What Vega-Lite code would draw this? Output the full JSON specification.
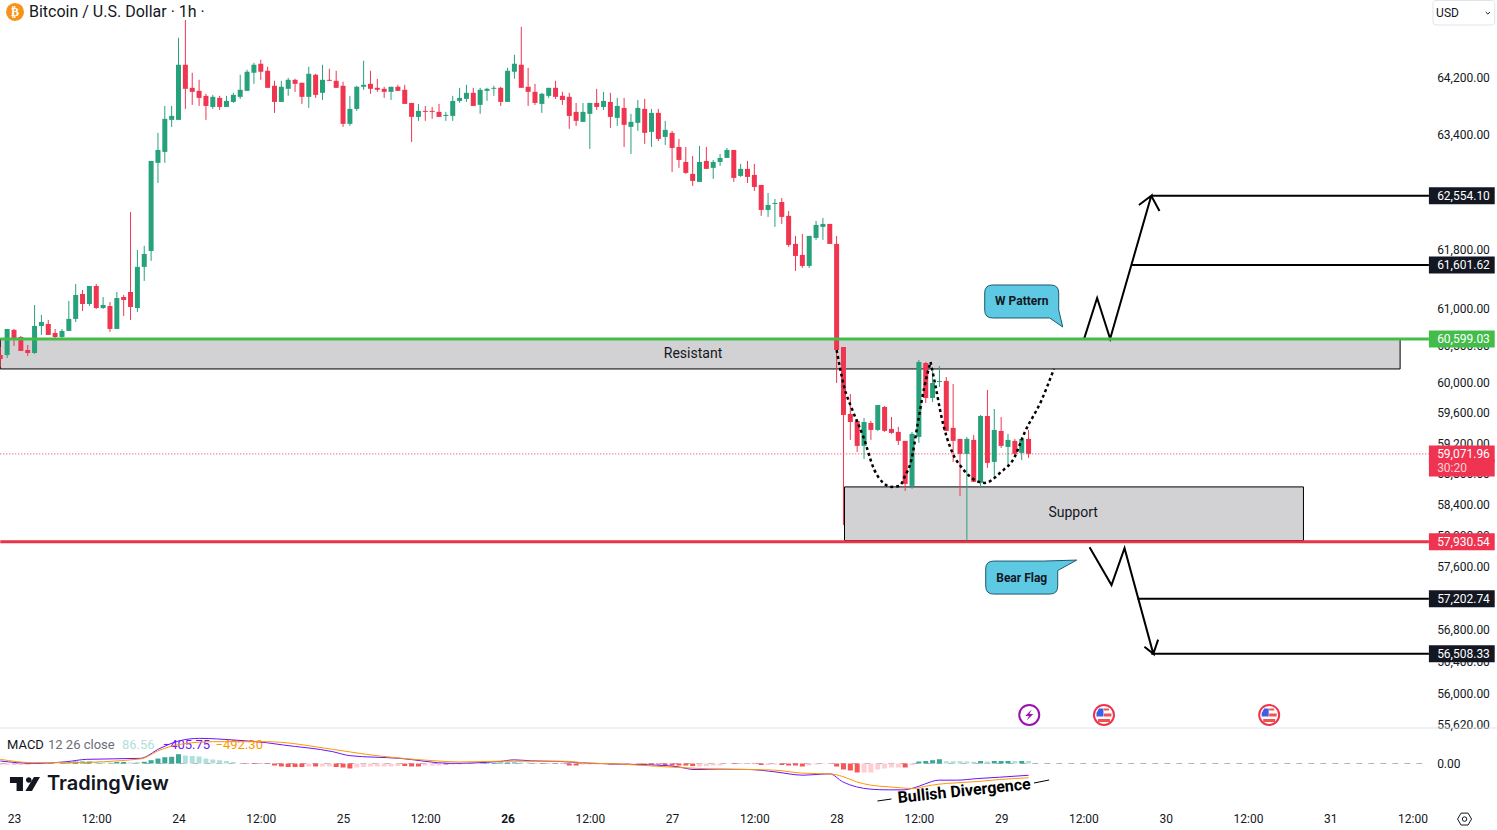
{"$schema":"https://vega.github.io/schema/vega-lite/v6.json","width":1430,"height":808,"padding":{"left":0,"top":0,"right":67,"bottom":22},"autosize":{"type":"none"},"background":"white","config":{"view":{"stroke":null},"font":"Roboto","text":{"font":"Roboto"}},
"datasets":{
"candles":[
[-2,60383,60330,60490,60223],[-1,60383,60733,60733,60343],[0,60720,60585,60733,60504],[1,60625,60437,60639,60437],[2,60450,60410,60517,60370],[3,60410,60773,61057,60397],[4,60773,60827,60922,60652],[5,60800,60652,60854,60652],[6,60679,60625,60733,60598],[7,60625,60706,60733,60598],[8,60706,60868,61111,60706],[9,60868,61192,61343,60827],[10,61206,61070,61261,60976],[11,61070,61315,61315,61043],[12,61315,61016,61343,61003],[13,61016,61057,61165,61003],[14,61043,60733,61097,60693],[15,60733,61151,61233,60733],[16,61165,61124,61192,60908],[17,61233,61030,62331,60854],[18,61016,61575,61807,60962],[19,61575,61752,61862,61384],[20,61793,63040,63040,61657],[21,63013,63194,63434,62733],[22,63166,63631,63814,63013],[23,63617,63673,63814,63518],[24,63617,64400,64786,63617],[25,64400,64057,65043,63772],[26,64071,64014,64286,63829],[27,64028,63928,64185,63814],[28,63957,63814,63986,63617],[29,63800,63943,63971,63772],[30,63928,63800,63957,63758],[31,63800,63885,63957,63800],[32,63871,63971,64000,63857],[33,63943,64043,64257,63914],[34,64028,64300,64329,64028],[35,64286,64400,64428,64128],[36,64414,64300,64471,64185],[37,64314,64071,64371,64071],[38,64100,63871,64171,63716],[39,63871,64086,64171,63871],[40,64057,64185,64214,63957],[41,64185,64128,64200,64014],[42,64143,63943,64143,63843],[43,63943,64271,64371,63786],[44,64257,63971,64271,63928],[45,64000,64185,64400,63899],[46,64185,64171,64343,64171],[47,64171,64071,64314,64071],[48,64100,63561,64157,63518],[49,63561,63772,63957,63532],[50,63772,64086,64100,63744],[51,64086,64114,64457,64043],[52,64128,64057,64314,63986],[53,64071,64043,64200,64014],[54,64057,64014,64086,63928],[55,64014,64086,64086,63899],[56,64086,64028,64114,64028],[57,64043,63843,64114,63843],[58,63857,63659,63857,63307],[59,63659,63744,63843,63603],[60,63744,63730,63814,63603],[61,63744,63730,63800,63631],[62,63730,63659,63843,63659],[63,63673,63688,63730,63603],[64,63673,63885,63957,63603],[65,63885,63928,64071,63857],[66,63914,64000,64114,63871],[67,64000,63814,64071,63814],[68,63829,64043,64071,63702],[69,64028,64057,64071,63885],[70,64057,64071,64100,63957],[71,64071,63871,64086,63814],[72,63871,64314,64357,63871],[73,64300,64414,64543,64200],[74,64400,64071,64943,64071],[75,64086,64014,64357,63814],[76,64014,63857,64128,63829],[77,63843,63986,64000,63716],[78,63957,64071,64071,63928],[79,64071,63943,64171,63914],[80,63957,63899,64014,63829],[81,63943,63673,64000,63490],[82,63730,63603,63857,63532],[83,63589,63730,63857,63589],[84,63702,63857,63857,63208],[85,63857,63800,64057,63758],[86,63800,63885,64014,63758],[87,63871,63659,64000,63504],[88,63645,63814,63928,63532],[89,63786,63547,63928,63236],[90,63518,63589,63702,63138],[91,63575,63786,63899,63462],[92,63772,63434,63914,63279],[93,63448,63716,63772,63236],[94,63716,63349,63772,63321],[95,63377,63476,63603,63265],[96,63434,63222,63462,62887],[97,63236,63054,63349,62943],[98,63026,62873,63236,62859],[99,62859,62761,63110,62691],[100,62747,63026,63250,62747],[101,63040,62929,63236,62929],[102,62943,63026,63054,62789],[103,63026,63082,63138,62971],[104,63082,63194,63222,63082],[105,63194,62803,63194,62747],[106,62831,62929,62999,62817],[107,62929,62817,63040,62733],[108,62845,62677,62999,62621],[109,62705,62358,62705,62276],[110,62358,62427,62594,62262],[111,62441,62455,62510,62124],[112,62468,62262,62524,62165],[113,62276,61876,62344,61849],[114,61890,61725,62000,61520],[115,61739,61588,62027,61561],[116,61588,62000,62000,61561],[117,61972,62151,62207,61945],[118,62124,62165,62248,61945],[119,62165,61890,62165,61890],[120,61890,60450,62000,60009],[121,60490,59585,60490,58147],[122,59598,59492,59863,59256],[123,59506,59177,59532,59098],[124,59177,59492,59545,59006],[125,59479,59387,59506,59256],[126,59387,59716,59716,59374],[127,59690,59374,59703,59361],[128,59400,59348,59558,59335],[129,59361,59243,59427,59190],[130,59243,58680,59243,58589],[131,58654,59335,59361,58615],[132,59295,60290,60316,59216],[133,60276,59809,60290,59743],[134,59809,60009,60169,59756],[135,60022,60036,60236,59956],[136,60036,59374,60089,59374],[137,59414,59243,59996,58967],[138,59269,59072,59269,58524],[139,59072,59269,59295,57940],[140,59256,58706,59322,58706],[141,58693,59571,59585,58641],[142,59571,58954,59916,58889],[143,58967,59387,59664,58745],[144,59374,59177,59558,59150],[145,59164,59256,59335,58928],[146,59243,59072,59269,59059],[147,59085,59269,59269,58993],[148,59269,59072,59387,59020]
],
"hist":[
[-2,-52,"wd"],[-1,-52,"wd"],[0,-52,"wd"],[1,-52,"wd"],[2,-52,"wd"],[3,-10,"wd"],[4,-10,"wd"],[5,-10,"wd"],[6,-7,"wd"],[7,10,"su"],[8,35,"su"],[9,69,"su"],[10,69,"su"],[11,69,"su"],[12,52,"wu"],[13,35,"wu"],[14,35,"wu"],[15,52,"su"],[16,52,"su"],[17,35,"wu"],[18,52,"wu"],[19,59,"su"],[20,114,"su"],[21,172,"su"],[22,217,"su"],[23,231,"su"],[24,321,"su"],[25,276,"wu"],[26,259,"wu"],[27,241,"wu"],[28,172,"wu"],[29,138,"wu"],[30,114,"wu"],[31,86,"wu"],[32,52,"wu"],[33,-7,"wd"],[34,-14,"sd"],[35,-14,"sd"],[36,-14,"sd"],[37,-14,"sd"],[38,-69,"sd"],[39,-103,"sd"],[40,-121,"sd"],[41,-121,"sd"],[42,-121,"sd"],[43,-103,"wd"],[44,-103,"sd"],[45,-103,"wd"],[46,-103,"wd"],[47,-121,"sd"],[48,-138,"sd"],[49,-172,"sd"],[50,-138,"wd"],[51,-121,"wd"],[52,-103,"wd"],[53,-103,"wd"],[54,-103,"wd"],[55,-103,"wd"],[56,-86,"wd"],[57,-86,"sd"],[58,-103,"sd"],[59,-103,"sd"],[60,-69,"wd"],[61,-69,"wd"],[62,-69,"wd"],[63,-35,"sd"],[64,-35,"wd"],[65,-35,"wd"],[66,-17,"wd"],[67,-17,"wd"],[68,-14,"wd"],[69,17,"su"],[70,17,"su"],[71,35,"su"],[72,35,"su"],[73,35,"su"],[74,35,"wu"],[75,35,"wu"],[76,-10,"sd"],[77,-10,"sd"],[78,-10,"sd"],[79,-10,"sd"],[80,-14,"sd"],[81,-69,"sd"],[82,-69,"sd"],[83,-35,"wd"],[84,-35,"wd"],[85,-35,"wd"],[86,-14,"wd"],[87,-35,"sd"],[88,-17,"wd"],[89,-17,"wd"],[90,-17,"wd"],[91,-17,"wd"],[92,-35,"sd"],[93,-35,"sd"],[94,-35,"sd"],[95,-52,"sd"],[96,-69,"sd"],[97,-69,"sd"],[98,-69,"sd"],[99,-86,"sd"],[100,-103,"wd"],[101,-86,"wd"],[102,-69,"wd"],[103,-69,"wd"],[104,-10,"wd"],[105,-17,"sd"],[106,-10,"sd"],[107,-17,"wd"],[108,-17,"sd"],[109,-52,"sd"],[110,-52,"wd"],[111,-35,"wd"],[112,-52,"sd"],[113,-69,"sd"],[114,-69,"sd"],[115,-103,"sd"],[116,-69,"wd"],[117,-35,"wd"],[118,-17,"wd"],[119,-17,"wd"],[120,-103,"sd"],[121,-207,"sd"],[122,-241,"sd"],[123,-310,"sd"],[124,-310,"wd"],[125,-310,"wd"],[126,-207,"wd"],[127,-172,"wd"],[128,-138,"wd"],[129,-138,"wd"],[130,-138,"sd"],[131,-52,"wd"],[132,69,"su"],[133,86,"su"],[134,114,"su"],[135,148,"su"],[136,79,"wu"],[137,79,"wu"],[138,79,"wu"],[139,69,"wu"],[140,62,"wu"],[141,86,"su"],[142,69,"wu"],[143,86,"su"],[144,86,"su"],[145,86,"su"],[146,86,"wu"],[147,86,"su"],[148,86.56,"wu"]
]
},
"encoding":{"x":{"field":"hour","type":"quantitative","scale":{"domain":[-2.042,206.56],"nice":false,"zero":false,"padding":0},"axis":{"title":null,"orient":"bottom","values":[0,12,24,36,48,60,72,84,96,108,120,132,144,156,168,180,192,204],"labelExpr":"datum.value%24==0?''+(23+datum.value/24):'12:00'","domain":false,"ticks":false,"grid":false,"labelPadding":5,"labelFontSize":12,"labelColor":"#131722","labelFont":"Roboto","labelFontWeight":{"condition":{"test":"datum.value==72","value":"bold"},"value":"normal"},"labelFlush":false,"labelOverlap":false,"zindex":1}}},
"resolve":{"scale":{"y":"independent"}},
"layer":[
{"layer":[
{"data":{"values":[{"hour":-2,"end":202.2,"top":60599,"bottom":60196},{"hour":121.15,"end":188.1,"top":58641,"bottom":57947}]},
"mark":{"type":"rect","fill":"#d2d2d4","stroke":"#000000","strokeWidth":1},
"encoding":{"x2":{"field":"end"},"y":{"field":"top","type":"quantitative","scale":{"type":"log","domain":[54608,65332],"nice":false,"zero":false},"axis":null},"y2":{"field":"bottom"}}},
{"data":{"values":[{"hour":-2,"end":206.4,"price":59071.96}]},
"mark":{"type":"rule","color":"#ef3550","strokeWidth":1,"strokeDash":[1,2]},
"encoding":{"x2":{"field":"end"},"y":{"field":"price","type":"quantitative","axis":null}}},
{"data":{"name":"candles"},"transform":[{"calculate":"datum[0]","as":"hour"},{"calculate":"datum[1]","as":"open"},{"calculate":"datum[2]","as":"close"},{"calculate":"datum[3]","as":"high"},{"calculate":"datum[4]","as":"low"}],
"mark":{"type":"rule","strokeWidth":1,"clip":true},
"encoding":{"y":{"field":"low","type":"quantitative","axis":null},"y2":{"field":"high"},"color":{"condition":{"test":"datum.close>=datum.open","value":"#26a17b"},"value":"#ef3550"}}},
{"data":{"name":"candles"},"transform":[{"calculate":"datum[0]","as":"hour"},{"calculate":"datum[1]","as":"open"},{"calculate":"datum[2]","as":"close"}],
"mark":{"type":"bar","width":5,"clip":true,"orient":"vertical"},
"encoding":{"y":{"field":"open","type":"quantitative","axis":null},"y2":{"field":"close"},"color":{"condition":{"test":"datum.close>=datum.open","value":"#26a17b"},"value":"#ef3550"}}},
{"data":{"values":[{"hour":120,"price":60450,"arc":1},{"hour":121.1,"price":59956,"arc":1},{"hour":122.3,"price":59651,"arc":1},{"hour":123.9,"price":59295,"arc":1},{"hour":125.5,"price":58863,"arc":1},{"hour":126.8,"price":58693,"arc":1},{"hour":128,"price":58641,"arc":1},{"hour":129.2,"price":58654,"arc":1},{"hour":129.9,"price":58771,"arc":1},{"hour":130.9,"price":58993,"arc":1},{"hour":131.8,"price":59453,"arc":1},{"hour":132.8,"price":59956,"arc":1},{"hour":133.7,"price":60290,"arc":1},{"hour":133.7,"price":60290,"arc":2},{"hour":134.4,"price":59982,"arc":2},{"hour":135.3,"price":59558,"arc":2},{"hour":136.9,"price":59085,"arc":2},{"hour":138.3,"price":58889,"arc":2},{"hour":139.7,"price":58758,"arc":2},{"hour":141.6,"price":58693,"arc":2},{"hour":144,"price":58837,"arc":2},{"hour":145.9,"price":59020,"arc":2},{"hour":147.4,"price":59348,"arc":2},{"hour":149.9,"price":59782,"arc":2},{"hour":151.7,"price":60196,"arc":2}]},
"mark":{"type":"line","color":"#000000","strokeWidth":2.5,"strokeDash":[3,3],"interpolate":"monotone"},
"encoding":{"y":{"field":"price","type":"quantitative","axis":null},"detail":{"field":"arc"}}},
{"data":{"values":[{"hour":156.1,"price":60599,"seq":1,"path":"up"},{"hour":158,"price":61151,"seq":2,"path":"up"},{"hour":159.9,"price":60599,"seq":3,"path":"up"},{"hour":165.9,"price":62554,"seq":4,"path":"up"},{"hour":164.1,"price":62427,"seq":5,"path":"up"},{"hour":165.9,"price":62554,"seq":6,"path":"up"},{"hour":167.1,"price":62344,"seq":7,"path":"up"},{"hour":156.9,"price":57862,"seq":1,"path":"down"},{"hour":160.1,"price":57378,"seq":2,"path":"down"},{"hour":162,"price":57849,"seq":3,"path":"down"},{"hour":166.2,"price":56508,"seq":4,"path":"down"},{"hour":164.9,"price":56598,"seq":5,"path":"down"},{"hour":166.2,"price":56508,"seq":6,"path":"down"},{"hour":166.9,"price":56687,"seq":7,"path":"down"}]},
"mark":{"type":"line","color":"#000000","strokeWidth":2},
"encoding":{"y":{"field":"price","type":"quantitative","axis":null},"detail":{"field":"path"},"order":{"field":"seq"}}},
{"data":{"values":[{"hour":-2,"end":206.4,"price":60599.03,"kind":"resistance"},{"hour":-2,"end":206.4,"price":57930.54,"kind":"support"},{"hour":165.9,"end":206.4,"price":62554.10,"kind":"target"},{"hour":163,"end":206.4,"price":61601.62,"kind":"target"},{"hour":163.9,"end":206.4,"price":57202.74,"kind":"target"},{"hour":165.9,"end":206.4,"price":56508.33,"kind":"target"}]},
"mark":{"type":"rule"},
"encoding":{"x2":{"field":"end"},"y":{"field":"price","type":"quantitative","axis":null},"strokeWidth":{"condition":{"test":"datum.kind=='target'","value":2},"value":3},"color":{"condition":[{"test":"datum.kind=='resistance'","value":"#43bd4a"},{"test":"datum.kind=='support'","value":"#ea3347"}],"value":"#000000"}}},
{"data":{"values":[{"hour":207.6,"tick":64200},{"hour":207.6,"tick":63400},{"hour":207.6,"tick":61800},{"hour":207.6,"tick":61000},{"hour":207.6,"tick":60500},{"hour":207.6,"tick":60000},{"hour":207.6,"tick":59600},{"hour":207.6,"tick":59200},{"hour":207.6,"tick":58800},{"hour":207.6,"tick":58400},{"hour":207.6,"tick":58000},{"hour":207.6,"tick":57600},{"hour":207.6,"tick":56800},{"hour":207.6,"tick":56400},{"hour":207.6,"tick":56000},{"hour":207.6,"tick":55620}]},
"mark":{"type":"text","align":"left","baseline":"middle","fontSize":12,"color":"#131722","dy":-0.5},
"encoding":{"y":{"field":"tick","type":"quantitative","axis":null},"text":{"field":"tick","type":"quantitative","format":",.2f"}}},
{"data":{"values":[{"hour":206.4,"end":216,"price":60599.03,"kind":"resistance"},{"hour":206.4,"end":216,"price":57930.54,"kind":"support"},{"hour":206.4,"end":216,"price":62554.10,"kind":"target"},{"hour":206.4,"end":216,"price":61601.62,"kind":"target"},{"hour":206.4,"end":216,"price":57202.74,"kind":"target"},{"hour":206.4,"end":216,"price":56508.33,"kind":"target"},{"hour":206.4,"end":216,"price":59071.96,"kind":"last"},{"hour":206.4,"end":216,"price":58887,"kind":"last"}]},
"mark":{"type":"rule","strokeWidth":17},
"encoding":{"x2":{"field":"end"},"y":{"field":"price","type":"quantitative","axis":null},"color":{"condition":[{"test":"datum.kind=='resistance'","value":"#43bd4a"},{"test":"datum.kind=='support'||datum.kind=='last'","value":"#ef3350"}],"value":"#131722"}}},
{"data":{"values":[{"hour":207.6,"price":60599.03},{"hour":207.6,"price":57930.54},{"hour":207.6,"price":62554.10},{"hour":207.6,"price":61601.62},{"hour":207.6,"price":57202.74},{"hour":207.6,"price":56508.33},{"hour":207.6,"price":59071.96}]},
"mark":{"type":"text","align":"left","baseline":"middle","fontSize":12,"color":"#ffffff","font":"Roboto"},
"encoding":{"y":{"field":"price","type":"quantitative","axis":null},"text":{"field":"price","type":"quantitative","format":",.2f"}}},
{"data":{"values":[{"hour":207.6,"price":58887,"label":"30:20"}]},
"mark":{"type":"text","align":"left","baseline":"middle","fontSize":12,"color":"#fbd0d6"},
"encoding":{"y":{"field":"price","type":"quantitative","axis":null},"text":{"field":"label"}}},
{"data":{"values":[{"hour":147,"price":61104}]},
"mark":{"type":"point","filled":true,"opacity":1,"fill":"#5ec9e3","stroke":"#1d5a6b","strokeWidth":1,"size":6400,"shape":"M -.725 -.4125 H .725 Q .925 -.4125 .925 -.2125 V .2125 L 1.025 .6375 L .7 .4125 H -.725 Q -.925 .4125 -.925 .2125 V -.2125 Q -.925 -.4125 -.725 -.4125 Z"},
"encoding":{"y":{"field":"price","type":"quantitative","axis":null}}},
{"data":{"values":[{"hour":147,"price":57473}]},
"mark":{"type":"point","filled":true,"opacity":1,"fill":"#5ec9e3","stroke":"#1d5a6b","strokeWidth":1,"size":6400,"shape":"M -.7 -.4125 H .55 L 1.375 -.4375 L .9 -.175 V .2125 Q .9 .4125 .7 .4125 H -.7 Q -.9 .4125 -.9 .2125 V -.2125 Q -.9 -.4125 -.7 -.4125 Z"},
"encoding":{"y":{"field":"price","type":"quantitative","axis":null}}},
{"data":{"values":[{"hour":147,"price":61111,"label":"W Pattern"},{"hour":147,"price":57467,"label":"Bear Flag"}]},
"mark":{"type":"text","fontSize":12,"fontWeight":"bold","color":"#131722"},
"encoding":{"y":{"field":"price","type":"quantitative","axis":null},"text":{"field":"label"}}},
{"data":{"values":[{"hour":99.05,"price":60396,"label":"Resistant"},{"hour":154.5,"price":58303,"label":"Support"}]},
"mark":{"type":"text","fontSize":14,"color":"#131722"},
"encoding":{"y":{"field":"price","type":"quantitative","axis":null},"text":{"field":"label"}}},
{"data":{"values":[{"hour":0.15,"price":65159}]},
"mark":{"type":"point","filled":true,"opacity":1,"fill":"#f7931a","shape":"circle","size":324},
"encoding":{"y":{"field":"price","type":"quantitative","axis":null}}},
{"data":{"values":[{"hour":0.15,"price":65159,"label":"₿"}]},
"mark":{"type":"text","fontSize":12,"fontWeight":"bold","color":"#ffffff","font":"DejaVu Sans"},
"encoding":{"y":{"field":"price","type":"quantitative","axis":null},"text":{"field":"label"}}},
{"data":{"values":[{"hour":2.19,"price":65159,"label":"Bitcoin / U.S. Dollar · 1h ·"}]},
"mark":{"type":"text","align":"left","fontSize":16,"color":"#131722"},
"encoding":{"y":{"field":"price","type":"quantitative","axis":null},"text":{"field":"label"}}},
{"data":{"values":[{"hour":207,"end":216,"top":65325,"bottom":64971}]},
"mark":{"type":"rect","fill":"#ffffff","stroke":"#e0e3eb","strokeWidth":1,"cornerRadius":3},
"encoding":{"x2":{"field":"end"},"y":{"field":"top","type":"quantitative","axis":null},"y2":{"field":"bottom"}}},
{"data":{"values":[{"hour":207.45,"price":65144,"label":"USD"}]},
"mark":{"type":"text","align":"left","fontSize":12,"color":"#131722"},
"encoding":{"y":{"field":"price","type":"quantitative","axis":null},"text":{"field":"label"}}},
{"data":{"values":[{"hour":215,"price":65144}]},
"mark":{"type":"point","filled":false,"opacity":1,"stroke":"#131722","strokeWidth":1,"size":36,"shape":"M -.7 -.3 L 0 .35 L .7 -.3"},
"encoding":{"y":{"field":"price","type":"quantitative","axis":null}}},
{"data":{"values":[{"hour":-2,"end":216.4,"price":55586}]},
"mark":{"type":"rule","color":"#e0e3eb","strokeWidth":1},
"encoding":{"x2":{"field":"end"},"y":{"field":"price","type":"quantitative","axis":null}}},
{"data":{"values":[{"hour":148.1,"price":55747}]},
"mark":{"type":"point","filled":true,"opacity":1,"fill":"#ffffff","stroke":"#9c12b0","strokeWidth":2,"shape":"circle","size":400},
"encoding":{"y":{"field":"price","type":"quantitative","axis":null}}},
{"data":{"values":[{"hour":148.1,"price":55747}]},
"mark":{"type":"point","filled":true,"opacity":1,"fill":"#9c12b0","size":400,"shape":"M .25 -.55 L -.4 .1 H -.02 L -.25 .55 L .4 -.1 H .02 Z"},
"encoding":{"y":{"field":"price","type":"quantitative","axis":null}}},
{"data":{"values":[{"hour":159,"price":55747},{"hour":183.1,"price":55747}]},
"mark":{"type":"point","filled":true,"opacity":1,"fill":"#ffffff","stroke":"#ef3350","strokeWidth":2,"shape":"circle","size":400},
"encoding":{"y":{"field":"price","type":"quantitative","axis":null}}},
{"data":{"values":[{"hour":159,"price":55747},{"hour":183.1,"price":55747}]},
"mark":{"type":"point","filled":true,"opacity":1,"fill":"#ef5350","size":400,"shape":"M 0 -.65 H .5 V -.45 H 0 Z M 0 -.15 H .75 V .15 H 0 Z M -.6 .4 H .6 V .7 H -.6 Z"},
"encoding":{"y":{"field":"price","type":"quantitative","axis":null}}},
{"data":{"values":[{"hour":159,"price":55747},{"hour":183.1,"price":55747}]},
"mark":{"type":"point","filled":true,"opacity":1,"fill":"#3f5fe0","size":400,"shape":"M -.5 -.65 H -.05 V .15 H -.75 V -.2 Z"},
"encoding":{"y":{"field":"price","type":"quantitative","axis":null}}},
{"data":{"values":[{"hour":-1.02,"price":55377,"label":"MACD","item":"name"},{"hour":4.96,"price":55377,"label":"12 26 close","item":"args"},{"hour":15.74,"price":55377,"label":"86.56","item":"hist"},{"hour":21.7,"price":55377,"label":"−405.75","item":"macd"},{"hour":29.4,"price":55377,"label":"−492.30","item":"signal"}]},
"mark":{"type":"text","align":"left","fontSize":13},
"encoding":{"y":{"field":"price","type":"quantitative","axis":null},"text":{"field":"label"},"color":{"condition":[{"test":"datum.item=='name'","value":"#131722"},{"test":"datum.item=='args'","value":"#6a6d78"},{"test":"datum.item=='hist'","value":"#b2dfdb"},{"test":"datum.item=='macd'","value":"#6a14ff"}],"value":"#ff9800"}}},
{"data":{"values":[{"hour":1.6,"price":54899}]},
"mark":{"type":"point","filled":true,"opacity":1,"fill":"#131722","size":1600,"shape":"M -.75 -.35 H -.1 V .35 H -.42 V -.05 H -.75 Z M .05 -.2 a .14 .14 0 1 0 .28 0 a .14 .14 0 1 0 -.28 0 Z M .45 -.35 H .75 L .35 .35 H .02 Z"},
"encoding":{"y":{"field":"price","type":"quantitative","axis":null}}},
{"data":{"values":[{"hour":4.81,"price":54899,"label":"TradingView"}]},
"mark":{"type":"text","align":"left","fontSize":20,"fontWeight":600,"font":"Inter","color":"#131722"},
"encoding":{"y":{"field":"price","type":"quantitative","axis":null},"text":{"field":"label"}}},
{"data":{"values":[{"hour":211.6,"price":54474}]},
"mark":{"type":"point","filled":false,"opacity":1,"stroke":"#131722","strokeWidth":1,"size":196,"shape":"M -1 0 L -.5 -.85 H .5 L 1 0 L .5 .85 H -.5 Z"},
"encoding":{"y":{"field":"price","type":"quantitative","axis":null}}},
{"data":{"values":[{"hour":211.6,"price":54474}]},
"mark":{"type":"point","filled":false,"opacity":1,"stroke":"#131722","strokeWidth":1,"size":20,"shape":"circle"},
"encoding":{"y":{"field":"price","type":"quantitative","axis":null}}}
]},
{"layer":[
{"data":{"values":[{"hour":-2,"end":205.6,"value":0}]},
"mark":{"type":"rule","color":"#b2b5be","strokeWidth":1,"strokeDash":[6,6]},
"encoding":{"x2":{"field":"end"},"y":{"field":"value","type":"quantitative","scale":{"domain":[-1535,26341],"nice":false,"zero":false},"axis":null}}},
{"data":{"values":[{"hour":207.6,"value":0}]},
"mark":{"type":"text","align":"left","baseline":"middle","fontSize":12,"color":"#131722","dy":0},
"encoding":{"y":{"field":"value","type":"quantitative","axis":null},"text":{"field":"value","type":"quantitative","format":".2f"}}},
{"data":{"name":"hist"},"transform":[{"calculate":"datum[0]","as":"hour"},{"calculate":"datum[1]","as":"value"},{"calculate":"datum[2]","as":"tone"}],
"mark":{"type":"bar","width":5,"clip":true,"orient":"vertical"},
"encoding":{"y":{"field":"value","type":"quantitative","axis":null},"y2":{"datum":0},"color":{"condition":[{"test":"datum.tone=='su'","value":"#3aa895"},{"test":"datum.tone=='wu'","value":"#b2dfdb"},{"test":"datum.tone=='sd'","value":"#f85656"}],"value":"#ffcdd2"}}},
{"data":{"values":[{"hour":-2,"value":86},{"hour":2.8,"value":6},{"hour":7.7,"value":63},{"hour":10.6,"value":144},{"hour":18.4,"value":178},{"hour":21.3,"value":523},{"hour":24.2,"value":788},{"hour":27.1,"value":868},{"hour":32,"value":811},{"hour":36.8,"value":719},{"hour":39.3,"value":638},{"hour":46.5,"value":408},{"hour":49,"value":270},{"hour":56.3,"value":178},{"hour":63.6,"value":6},{"hour":70.85,"value":69},{"hour":72.9,"value":126},{"hour":75.5,"value":92},{"hour":79.7,"value":69},{"hour":83.9,"value":12},{"hour":88,"value":-23},{"hour":92.7,"value":-46},{"hour":96.9,"value":-115},{"hour":99.2,"value":-207},{"hour":103.1,"value":-196},{"hour":107.3,"value":-207},{"hour":111,"value":-288},{"hour":115.1,"value":-403},{"hour":117.7,"value":-368},{"hour":119,"value":-357},{"hour":120.9,"value":-633},{"hour":122.9,"value":-805},{"hour":125,"value":-886},{"hour":127.6,"value":-909},{"hour":129.7,"value":-909},{"hour":131.3,"value":-840},{"hour":132.8,"value":-713},{"hour":134.9,"value":-575},{"hour":137.5,"value":-575},{"hour":140.6,"value":-518},{"hour":143.8,"value":-472},{"hour":148,"value":-405.75}]},
"mark":{"type":"line","color":"#6a14ff","strokeWidth":1,"interpolate":"monotone"},
"encoding":{"y":{"field":"value","type":"quantitative","axis":null}}},
{"data":{"values":[{"hour":-2,"value":144},{"hour":2.8,"value":29},{"hour":7.7,"value":29},{"hour":18.4,"value":155},{"hour":21.3,"value":466},{"hour":24.2,"value":661},{"hour":29.1,"value":753},{"hour":36.8,"value":753},{"hour":46.5,"value":489},{"hour":51.4,"value":316},{"hour":61.1,"value":98},{"hour":65,"value":52},{"hour":70.85,"value":80},{"hour":79.7,"value":80},{"hour":83.9,"value":12},{"hour":88,"value":-12},{"hour":92.7,"value":-80},{"hour":96.9,"value":-138},{"hour":99.2,"value":-161},{"hour":103.1,"value":-196},{"hour":107.3,"value":-207},{"hour":111,"value":-230},{"hour":115.1,"value":-334},{"hour":119,"value":-357},{"hour":120.9,"value":-448},{"hour":122.9,"value":-633},{"hour":125,"value":-748},{"hour":127.6,"value":-805},{"hour":131.3,"value":-862},{"hour":132.8,"value":-794},{"hour":134.9,"value":-713},{"hour":137.5,"value":-667},{"hour":140.6,"value":-621},{"hour":143.8,"value":-552},{"hour":148,"value":-492.3}]},
"mark":{"type":"line","color":"#ff9800","strokeWidth":1,"interpolate":"monotone"},
"encoding":{"y":{"field":"value","type":"quantitative","axis":null}}},
{"data":{"values":[{"hour":125.95,"value":-1294,"seg":"a"},{"hour":128,"value":-1225,"seg":"a"},{"hour":148.8,"value":-673,"seg":"b"},{"hour":151,"value":-569,"seg":"b"}]},
"mark":{"type":"line","color":"#000000","strokeWidth":1},
"encoding":{"y":{"field":"value","type":"quantitative","axis":null},"detail":{"field":"seg"}}},
{"data":{"values":[{"hour":138.6,"value":-949,"label":"Bullish Divergence"}]},
"mark":{"type":"text","fontSize":16,"fontWeight":"bold","color":"#000000","angle":354},
"encoding":{"y":{"field":"value","type":"quantitative","axis":null},"text":{"field":"label"}}}
]}
]}
